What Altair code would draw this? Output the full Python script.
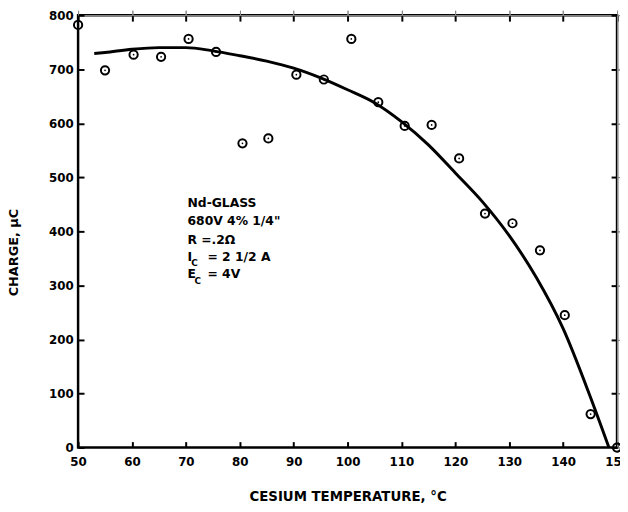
import altair as alt
import pandas as pd

# measured data points
temp = [50, 55, 60.3, 65.4, 70.5, 75.6, 80.5, 85.3, 90.5, 95.6, 100.7, 105.7,
        110.6, 115.6, 120.7, 125.5, 130.6, 135.7, 140.3, 145.1, 150]
charge = [782, 698, 727, 723, 756, 732, 563, 572, 690, 681, 756, 639,
          595, 597, 535, 433, 415, 365, 245, 62, 0]

# fitted curve
curve_t = [53, 55, 60, 65, 70, 75, 80, 85, 90, 95, 100, 105, 110, 115, 120,
           125, 130, 135, 140, 145, 148.5]
curve_q = [729, 731, 737, 740, 740, 734, 725, 715, 702, 684, 662, 638, 603,
           560, 508, 455, 392, 315, 220, 95, 0]

x_ticks = [50, 60, 70, 80, 90, 100, 110, 120, 130, 140, 150]
y_ticks = [0, 100, 200, 300, 400, 500, 600, 700, 800]

ann_text = ["Nd-GLASS", "680V 4% 1/4\"", "R =.2\u03a9", "I", "C", "= 2 1/2 A", "E", "C", "= 4V"]
ann_x = [70.3, 70.3, 70.3, 70.3, 71.0, 74.0, 70.3, 71.6, 74.0]
ann_y = [453, 420, 384, 352, 341, 352, 321, 309, 321]
ann_size = [12.5, 12.5, 12.5, 12.5, 9, 12.5, 12.5, 9, 12.5]

pts = pd.DataFrame({"t": temp, "q": charge})
crv = pd.DataFrame({"t": curve_t, "q": curve_q})
ann = pd.DataFrame({"text": ann_text, "t": ann_x, "q": ann_y, "s": ann_size})

FONT = "DejaVu Sans"

xs = alt.Scale(domain=[50, 150], nice=False, zero=False)
ys = alt.Scale(domain=[0, 800], nice=False)

x_bottom = alt.Axis(orient="bottom", values=x_ticks, offset=-6, tickSize=6, tickWidth=2,
                    tickColor="black", domain=False, grid=False, labelPadding=9,
                    labelFont=FONT, labelFontSize=12, labelFontWeight="bold", labelColor="black",
                    labelFlush=False,
                    title="CESIUM TEMPERATURE, \u00b0C", titleFont=FONT, titleFontSize=13.5,
                    titleFontWeight="bold", titleColor="black", titleY=56, titleBaseline="middle")
y_left = alt.Axis(orient="left", values=y_ticks, offset=-6, tickSize=6, tickWidth=2,
                  tickColor="black", domain=False, grid=False, labelPadding=5,
                  labelFont=FONT, labelFontSize=12, labelFontWeight="bold", labelColor="black",
                  labelFlush=False,
                  title="CHARGE, \u03bcC", titleFont=FONT, titleFontSize=13, titleFontWeight="bold",
                  titleColor="black", titleX=-71, titleY=240, titleAngle=270,
                  titleBaseline="middle", titleAlign="center")
x_top = alt.Axis(orient="top", values=x_ticks, offset=-6, tickSize=6, tickWidth=2,
                 tickColor="black", domain=False, grid=False, labels=False, title=None)
y_right = alt.Axis(orient="right", values=y_ticks, offset=-6, tickSize=6, tickWidth=2,
                   tickColor="black", domain=False, grid=False, labels=False, title=None)

base_pts = alt.Chart(pts)

circles = base_pts.mark_point(shape="circle", size=70, filled=False, stroke="black",
                              strokeWidth=2, opacity=1, clip=False).encode(
    x=alt.X("t:Q", scale=xs, axis=x_bottom),
    y=alt.Y("q:Q", scale=ys, axis=y_left),
)
dots = base_pts.mark_point(shape="circle", size=3, filled=True, color="black",
                           opacity=1).encode(x=alt.X("t:Q", scale=xs), y=alt.Y("q:Q", scale=ys))

line = alt.Chart(crv).mark_line(color="black", strokeWidth=3, interpolate="monotone").encode(
    x=alt.X("t:Q", scale=xs, axis=x_top),
    y=alt.Y("q:Q", scale=ys, axis=y_right),
)

text = alt.Chart(ann).mark_text(align="left", baseline="middle", font=FONT,
                                fontWeight="bold", color="black").encode(
    x=alt.X("t:Q", scale=xs),
    y=alt.Y("q:Q", scale=ys),
    text="text:N",
    size=alt.Size("s:Q", scale=None, legend=None),
)

chart = alt.layer(circles, dots, line, text).resolve_axis(x="independent", y="independent").properties(
    width=546, height=438,
    padding={"left": 71, "top": 4, "right": 3, "bottom": 60},
    autosize=alt.AutoSizeParams(type="none"),
    background="white",
).configure_view(stroke="black", strokeWidth=2.5)

chart.save("out.html", embed_options={"renderer": "svg", "actions": False})
